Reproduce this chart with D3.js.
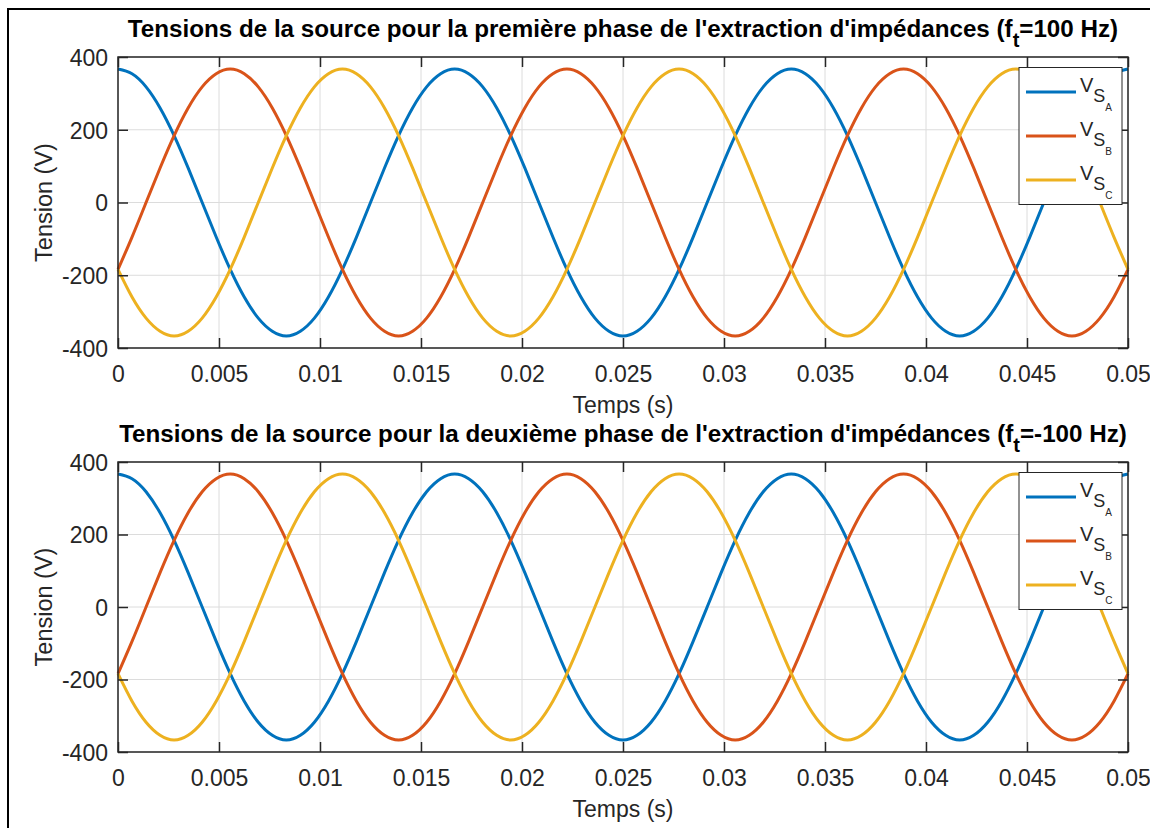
<!DOCTYPE html>
<html>
<head>
<meta charset="utf-8">
<script src="https://cdn.jsdelivr.net/npm/d3@7"></script>
<style>
  body { margin: 0; background: #fff; }
  text { font-family: "Liberation Sans", Arial, Helvetica, sans-serif; }
</style>
</head>
<body>
<div id="chart"></div>
<script>
// time samples (s), one every 15 degrees of a 60 Hz period
var temps = [0, 0.000694, 0.001389, 0.002083, 0.002778, 0.003472, 0.004167, 0.004861,
  0.005556, 0.00625, 0.006944, 0.007639, 0.008333, 0.009028, 0.009722, 0.010417,
  0.011111, 0.011806, 0.0125, 0.013194, 0.013889, 0.014583, 0.015278, 0.015972,
  0.016667, 0.017361, 0.018056, 0.01875, 0.019444, 0.020139, 0.020833, 0.021528,
  0.022222, 0.022917, 0.023611, 0.024306, 0.025, 0.025694, 0.026389, 0.027083,
  0.027778, 0.028472, 0.029167, 0.029861, 0.030556, 0.03125, 0.031944, 0.032639,
  0.033333, 0.034028, 0.034722, 0.035417, 0.036111, 0.036806, 0.0375, 0.038194,
  0.038889, 0.039583, 0.040278, 0.040972, 0.041667, 0.042361, 0.043056, 0.04375,
  0.044444, 0.045139, 0.045833, 0.046528, 0.047222, 0.047917, 0.048611, 0.049306, 0.05];

// source voltages (V) (same in both panels)
var vsA = [367, 354, 318, 260, 184, 95, 0, -95, -184, -260, -318, -354,
  -367, -354, -318, -260, -184, -95, 0, 95, 184, 260, 318, 354,
  367, 354, 318, 260, 184, 95, 0, -95, -184, -260, -318, -354,
  -367, -354, -318, -260, -184, -95, 0, 95, 184, 260, 318, 354,
  367, 354, 318, 260, 184, 95, 0, -95, -184, -260, -318, -354,
  -367, -354, -318, -260, -184, -95, 0, 95, 184, 260, 318, 354, 367];
var vsB = [-184, -95, 0, 95, 184, 260, 318, 354, 367, 354, 318, 260,
  184, 95, 0, -95, -184, -260, -318, -354, -367, -354, -318, -260,
  -184, -95, 0, 95, 184, 260, 318, 354, 367, 354, 318, 260,
  184, 95, 0, -95, -184, -260, -318, -354, -367, -354, -318, -260,
  -184, -95, 0, 95, 184, 260, 318, 354, 367, 354, 318, 260,
  184, 95, 0, -95, -184, -260, -318, -354, -367, -354, -318, -260, -184];
var vsC = [-184, -260, -318, -354, -367, -354, -318, -260, -184, -95, 0, 95,
  184, 260, 318, 354, 367, 354, 318, 260, 184, 95, 0, -95,
  -184, -260, -318, -354, -367, -354, -318, -260, -184, -95, 0, 95,
  184, 260, 318, 354, 367, 354, 318, 260, 184, 95, 0, -95,
  -184, -260, -318, -354, -367, -354, -318, -260, -184, -95, 0, 95,
  184, 260, 318, 354, 367, 354, 318, 260, 184, 95, 0, -95, -184];

var xTicks = [0, 0.005, 0.01, 0.015, 0.02, 0.025, 0.03, 0.035, 0.04, 0.045, 0.05];
var yTicks = [-400, -200, 0, 200, 400];
var seriesNames = ["A", "B", "C"];
var colors = ["#0072BD", "#D95319", "#EDB120"];

var panels = [
  { title: "Tensions de la source pour la première phase de l'extraction d'impédances (f", ft: "=100 Hz)", top: 57, bottom: 348 },
  { title: "Tensions de la source pour la deuxième phase de l'extraction d'impédances (f", ft: "=-100 Hz)", top: 462, bottom: 752 }
];

var W = 1150, H = 828;
var left = 118, right = 1128;

var svg = d3.select("#chart").append("svg")
  .attr("width", W)
  .attr("height", H);

// outer frame
svg.append("rect")
  .attr("x", 8).attr("y", 9)
  .attr("width", 1160).attr("height", 840)
  .attr("fill", "none")
  .attr("stroke", "#000")
  .attr("stroke-width", 2);

var x = d3.scaleLinear().domain([0, 0.05]).range([left, right]);

var series = [vsA, vsB, vsC];

panels.forEach(function(p, pi) {
  var y = d3.scaleLinear().domain([-400, 400]).range([p.bottom, p.top]);
  var g = svg.append("g");

  // grid
  g.selectAll(".gx").data(xTicks).enter().append("line")
    .attr("x1", d => x(d)).attr("x2", d => x(d))
    .attr("y1", p.top).attr("y2", p.bottom)
    .attr("stroke", "#dcdcdc").attr("stroke-width", 1);
  g.selectAll(".gy").data(yTicks).enter().append("line")
    .attr("x1", left).attr("x2", right)
    .attr("y1", d => y(d)).attr("y2", d => y(d))
    .attr("stroke", "#dcdcdc").attr("stroke-width", 1);

  // lines
  var line = d3.line()
    .x((d, i) => x(temps[i]))
    .y(d => y(d))
    .curve(d3.curveNatural);

  series.forEach(function(s, si) {
    g.append("path")
      .attr("d", line(s))
      .attr("fill", "none")
      .attr("stroke", colors[si])
      .attr("stroke-width", 3);
  });

  // axes box + inward ticks
  var axColor = "#262626";
  g.append("rect")
    .attr("x", left).attr("y", p.top)
    .attr("width", right - left).attr("height", p.bottom - p.top)
    .attr("fill", "none").attr("stroke", axColor).attr("stroke-width", 1.5);

  var xAxB = d3.axisBottom(x).tickValues(xTicks).tickSize(-10).tickPadding(18)
    .tickFormat(d => String(+d.toFixed(3)));
  var xg = g.append("g").attr("transform", "translate(0," + p.bottom + ")").call(xAxB);
  var xAxT = d3.axisTop(x).tickValues(xTicks).tickSize(-10).tickFormat("");
  var xgt = g.append("g").attr("transform", "translate(0," + p.top + ")").call(xAxT);
  var yAxL = d3.axisLeft(y).tickValues(yTicks).tickSize(-10).tickPadding(10)
    .tickFormat(d => String(d));
  var yg = g.append("g").attr("transform", "translate(" + left + ",0)").call(yAxL);
  var yAxR = d3.axisRight(y).tickValues(yTicks).tickSize(-10).tickFormat("");
  var ygr = g.append("g").attr("transform", "translate(" + right + ",0)").call(yAxR);

  [xg, xgt, yg, ygr].forEach(function(a) {
    a.select(".domain").remove();
    a.selectAll("line").attr("stroke", axColor).attr("stroke-width", 1.5);
    a.selectAll("text").attr("fill", axColor).style("font-size", "23px")
      .style("font-family", "'Liberation Sans', Arial, sans-serif");
  });
  yg.selectAll("text").attr("dy", "0.36em");

  // axis labels
  g.append("text")
    .attr("x", (left + right) / 2).attr("y", p.bottom + 65)
    .attr("text-anchor", "middle")
    .attr("fill", axColor).style("font-size", "23px")
    .text("Temps (s)");
  g.append("text")
    .attr("transform", "translate(52," + (p.top + p.bottom) / 2 + ") rotate(-90)")
    .attr("text-anchor", "middle")
    .attr("fill", axColor).style("font-size", "23.5px")
    .text("Tension (V)");

  // title
  var t = g.append("text")
    .attr("x", (left + right) / 2).attr("y", p.top - 20)
    .attr("text-anchor", "middle")
    .attr("fill", "#000").style("font-size", "24.2px").style("font-weight", "bold");
  t.append("tspan").text(p.title);
  t.append("tspan").attr("dy", 10).style("font-size", "20px").text("t");
  t.append("tspan").attr("dy", -10).text(p.ft);

  // legend
  var lx = 1019, ly = p.top + 10.5, lw = 103, lh = 137;
  var lg = g.append("g");
  lg.append("rect")
    .attr("x", lx).attr("y", ly).attr("width", lw).attr("height", lh)
    .attr("fill", "#fff").attr("stroke", axColor).attr("stroke-width", 1);
  seriesNames.forEach(function(n, i) {
    var cy = ly + 24.5 + i * 44;
    lg.append("line")
      .attr("x1", lx + 7).attr("x2", lx + 57)
      .attr("y1", cy).attr("y2", cy)
      .attr("stroke", colors[i]).attr("stroke-width", 3);
    var lt = lg.append("text")
      .attr("x", lx + 61).attr("y", cy + 0)
      .attr("fill", axColor).style("font-size", "20px");
    lt.append("tspan").text("V");
    lt.append("tspan").attr("dy", 10).style("font-size", "18px").text("S");
    lt.append("tspan").attr("dy", 8.5).style("font-size", "10px").text(n);
  });
});
</script>
</body>
</html>
